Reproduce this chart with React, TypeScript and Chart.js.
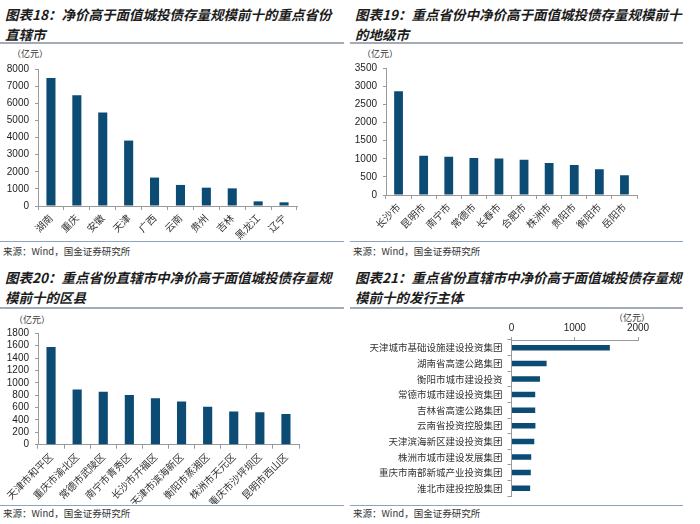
import React, { useEffect, useRef } from "react";
import { Chart, registerables } from "chart.js";
Chart.register(...registerables);

// ---- Data ----
const provinces = ["湖南", "重庆", "安徽", "天津", "广西", "云南", "贵州", "吉林", "黑龙江", "辽宁"];
const provinceValues = [7480, 6470, 5460, 3820, 1660, 1230, 1070, 1030, 270, 215];

const cities = ["长沙市", "昆明市", "南宁市", "常德市", "长春市", "合肥市", "株洲市", "贵阳市", "衡阳市", "岳阳市"];
const cityValues = [2865, 1085, 1060, 1020, 1005, 975, 885, 830, 710, 545];

const districts = ["天津市和平区", "重庆市渝北区", "常德市武陵区", "南宁市青秀区", "长沙市开福区", "天津市滨海新区", "衡阳市蒸湘区", "株洲市天元区", "重庆市沙坪坝区", "昆明市西山区"];
const districtValues = [1580, 890, 855, 805, 750, 700, 615, 535, 525, 495];

const issuers = ["天津城市基础设施建设投资集团", "湖南省高速公路集团", "衡阳市城市建设投资", "常德市城市建设投资集团", "吉林省高速公路集团", "云南省投资控股集团", "天津滨海新区建设投资集团", "株洲市城市建设发展集团", "重庆市南部新城产业投资集团", "淮北市建投控股集团"];
const issuerValues = [1555, 555, 450, 375, 375, 378, 360, 312, 305, 295];

const titles18 = ["图表18：净价高于面值城投债存量规模前十的重点省份", "直辖市"];
const titles19 = ["图表19：重点省份中净价高于面值城投债存量规模前十", "的地级市"];
const titles20 = ["图表20：重点省份直辖市中净价高于面值城投债存量规", "模前十的区县"];
const titles21 = ["图表21：重点省份直辖市中净价高于面值城投债存量规", "模前十的发行主体"];
const sourceText = "来源：Wind，国金证券研究所";
const unitText = "（亿元）";

// ---- Styles ----
const BAR = "#0c4b73";
const AXIS = "#9a9a9a";
const CJK = "'Noto Sans CJK SC', 'Noto Sans', sans-serif";
const NUM = "'Liberation Sans', Arial, sans-serif";

type BarProps = {
  left: number; top: number; width: number; height: number;
  labels: string[]; values: number[];
  min: number; max: number; step: number;
  yWidth: number; xHeight: number;
  padTop: number; padRight: number; padBottom?: number;
  horizontal?: boolean; labelSize?: number;
};

function BarChart(p: BarProps) {
  const ref = useRef<HTMLCanvasElement | null>(null);
  useEffect(() => {
    if (!ref.current) return;
    const catScale: any = {
      type: "category",
      grid: { display: true, drawOnChartArea: false, tickLength: 4, color: AXIS, offset: true },
      border: { color: AXIS },
      ticks: p.horizontal
        ? { font: { family: CJK, size: p.labelSize ?? 9.5 }, color: "#333", padding: 5, autoSkip: false }
        : { minRotation: 45, maxRotation: 45, font: { family: CJK, size: p.labelSize ?? 10 }, color: "#333", padding: 2, autoSkip: false },
      afterFit: (s: any) => {
        if (p.horizontal) { s.width = p.yWidth; s.paddingTop = 0; s.paddingBottom = 0; }
        else { s.height = p.xHeight; s.paddingLeft = 0; s.paddingRight = 0; }
      },
    };
    const valScale: any = {
      type: "linear",
      min: p.min, max: p.max,
      position: p.horizontal ? "top" : "left",
      grid: { display: true, drawOnChartArea: false, tickLength: 3, color: AXIS },
      border: { color: AXIS },
      ticks: {
        stepSize: p.step, autoSkip: false,
        font: { family: NUM, size: 10 }, color: "#222", padding: p.horizontal ? 3 : 6,
        callback: (v: any) => String(v),
      },
      afterFit: (s: any) => {
        if (p.horizontal) { s.height = p.xHeight; s.paddingLeft = 0; s.paddingRight = 0; }
        else { s.width = p.yWidth; s.paddingTop = 0; s.paddingBottom = 0; }
      },
    };
    const chart = new Chart(ref.current, {
      type: "bar",
      data: {
        labels: p.labels,
        datasets: [{ data: p.values, backgroundColor: BAR, borderWidth: 0, categoryPercentage: 1, barPercentage: 0.35 }],
      },
      options: {
        indexAxis: p.horizontal ? "y" : "x",
        responsive: false,
        animation: false,
        events: [],
        plugins: { legend: { display: false }, tooltip: { enabled: false } },
        layout: { padding: { left: 0, top: p.padTop, right: p.padRight, bottom: p.padBottom ?? 0 } },
        scales: p.horizontal ? { x: valScale, y: catScale } : { x: catScale, y: valScale },
      } as any,
    });
    return () => chart.destroy();
  }, []);
  return (
    <canvas
      ref={ref}
      width={p.width}
      height={p.height}
      style={{ position: "absolute", left: p.left, top: p.top, width: p.width, height: p.height }}
    />
  );
}

function Title({ left, top, lines }: { left: number; top: number; lines: string[] }) {
  return (
    <div style={{ position: "absolute", left, top, fontFamily: CJK, fontWeight: 700, fontStyle: "italic", fontSize: 13.5, lineHeight: "20px", color: "#1c1c1c", whiteSpace: "nowrap" }}>
      {lines.map((l, i) => <div key={i}>{l}</div>)}
    </div>
  );
}

function Line({ left, top, width, h, color }: { left: number; top: number; width: number; h: number; color: string }) {
  return <div style={{ position: "absolute", left, top, width, height: h, background: color }} />;
}

function Small({ left, top, text, size }: { left: number; top: number; text: string; size: number }) {
  return (
    <div style={{ position: "absolute", left, top, fontFamily: CJK, fontSize: size, lineHeight: `${size + 2}px`, color: "#333", whiteSpace: "nowrap" }}>{text}</div>
  );
}

export default function App() {
  useEffect(() => { document.body.style.margin = "0"; }, []);
  return (
    <div style={{ position: "absolute", left: 0, top: 0, width: 700, height: 524, background: "#fff", overflow: "hidden" }}>
      {/* Chart 18 */}
      <Title left={5} top={4} lines={titles18} />
      <Line left={0} top={42} width={344} h={2} color="#a3acb6" />
      <Small left={12} top={48} text={unitText} size={9} />
      <BarChart left={0} top={60} width={345} height={180} labels={provinces} values={provinceValues}
        min={0} max={8000} step={1000} yWidth={38} xHeight={34} padTop={9} padRight={48} />
      <Line left={0} top={241} width={344} h={1} color="#8fa3bd" />
      <Small left={3} top={246} text={sourceText} size={9.5} />

      {/* Chart 19 */}
      <Title left={355} top={4} lines={titles19} />
      <Line left={350} top={42} width={333} h={2} color="#a3acb6" />
      <Small left={362} top={48} text={unitText} size={9} />
      <BarChart left={350} top={60} width={350} height={180} labels={cities} values={cityValues}
        min={0} max={3500} step={500} yWidth={36} xHeight={45} padTop={8.3} padRight={63} />
      <Line left={350} top={241} width={333} h={1} color="#8fa3bd" />
      <Small left={353} top={246} text={sourceText} size={9.5} />

      {/* Chart 20 */}
      <Title left={5} top={267} lines={titles20} />
      <Line left={0} top={307} width={344} h={2} color="#a3acb6" />
      <Small left={14} top={314} text={unitText} size={9} />
      <BarChart left={0} top={310} width={345} height={194} labels={districts} values={districtValues}
        min={0} max={1800} step={200} yWidth={38} xHeight={59.3} padTop={23.3} padRight={46} labelSize={10} />
      <Line left={0} top={505} width={344} h={1} color="#8fa3bd" />
      <Small left={3} top={508} text={sourceText} size={9.5} />

      {/* Chart 21 */}
      <Title left={355} top={267} lines={titles21} />
      <Line left={350} top={307} width={333} h={2} color="#a3acb6" />
      <Small left={614} top={312} text={unitText} size={9} />
      <BarChart left={350} top={310} width={350} height={194} labels={issuers} values={issuerValues}
        min={0} max={2000} step={1000} yWidth={161.5} xHeight={30} padTop={0} padRight={62} padBottom={8} horizontal />
      <Line left={350} top={505} width={333} h={1} color="#8fa3bd" />
      <Small left={353} top={508} text={sourceText} size={9.5} />
    </div>
  );
}
